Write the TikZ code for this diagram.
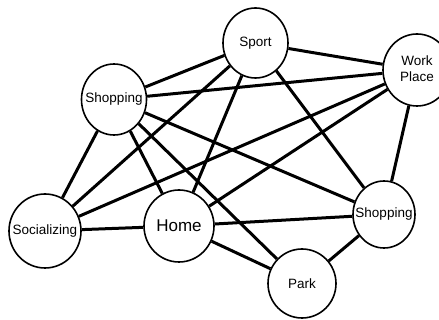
\documentclass[tikz,border=0pt]{standalone}
\usepackage{fontspec}
\setmainfont{Liberation Sans}
\usetikzlibrary{shapes.geometric}
\newcommand{\zl}[1]{\makebox[0pt]{#1}}
\begin{document}
\begin{tikzpicture}[x=1pt,y=-1pt,
  place/.style={ellipse, draw, line width=1.6pt, fill=white, inner sep=0pt,
    font=\fontsize{13.5}{16}\selectfont},
  link/.style={line width=3pt}]
\useasboundingbox (0,0) rectangle (439,320);
\node[place, minimum width=65pt, minimum height=71pt] (shl) at (114,99.5) {\zl{Shopping}};
\node[place, minimum width=65pt, minimum height=70pt] (sport) at (255.5,43) {\zl{Sport}};
\node[place, minimum width=68pt, minimum height=72pt] (work) at (417,70) {\zl{\begin{tabular}{@{}c@{}}Work\\Place\end{tabular}}};
\node[place, minimum width=72pt, minimum height=74pt] (soc) at (45,231) {\zl{Socializing}};
\node[place, minimum width=70pt, minimum height=72pt, font=\fontsize{17}{20}\selectfont] (home) at (179,226) {\zl{Home}};
\node[place, minimum width=62pt, minimum height=67pt] (shr) at (384,214.5) {\zl{Shopping}};
\node[place, minimum width=68pt, minimum height=69pt] (park) at (302,283.5) {\zl{Park}};
\foreach \a/\b in {shl/sport, shl/work, shl/soc, shl/home, shl/shr, shl/park,
  sport/work, sport/soc, sport/home, sport/shr,
  work/soc, work/home, work/shr,
  soc/home, home/shr, home/park, park/shr}
  \draw[link] (\a) -- (\b);
\end{tikzpicture}
\end{document}
